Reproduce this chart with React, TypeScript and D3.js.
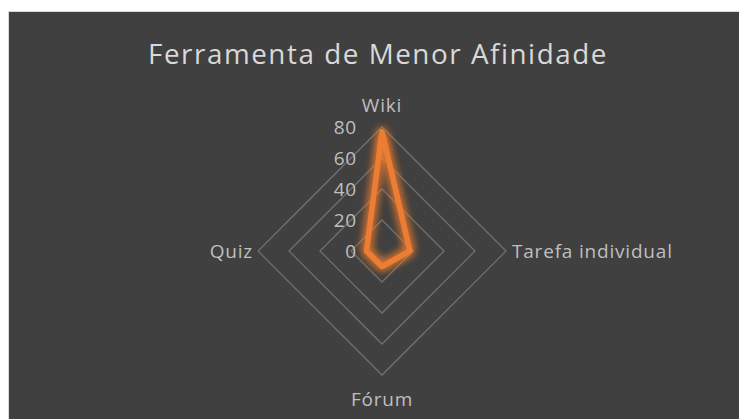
import React from 'react'
import { useRef, useEffect } from 'react'
import * as d3 from 'd3'

// chart data
const categories = ['Wiki', 'Tarefa individual', 'Fórum', 'Quiz']
const values = [77, 18, 10, 10]
const ticks = [0, 20, 40, 60, 80]

export default function App() {
  const svgRef = useRef<SVGSVGElement | null>(null)

  useEffect(() => {
    const w = 739
    const h = 419
    const cx = 382
    const cy = 251

    const svg = d3.select(svgRef.current)
    svg.selectAll('*').remove()
    svg.attr('width', w).attr('height', h)

    // glow filter for the series line
    const defs = svg.append('defs')
    const filter = defs.append('filter').attr('id', 'glow')
      .attr('x', '-50%').attr('y', '-50%').attr('width', '200%').attr('height', '200%')
    filter.append('feGaussianBlur').attr('in', 'SourceGraphic').attr('stdDeviation', 5).attr('result', 'blur')
    const merge = filter.append('feMerge')
    merge.append('feMergeNode').attr('in', 'blur')
    merge.append('feMergeNode').attr('in', 'blur')
    merge.append('feMergeNode').attr('in', 'SourceGraphic')

    // background + border
    svg.append('rect')
      .attr('x', 8.5).attr('y', 11.5)
      .attr('width', w).attr('height', h)
      .attr('fill', '#404040')
      .attr('stroke', '#d9d9d9')
      .attr('stroke-width', 1)

    // title
    svg.append('text')
      .attr('x', 378).attr('y', 64)
      .attr('text-anchor', 'middle')
      .style('font-family', '"Open Sans", sans-serif')
      .style('font-size', '27.8px')
      .style('letter-spacing', '1.55px')
      .style('fill', '#d9d9d9')
      .text('Ferramenta de Menor Afinidade')

    // scales
    const r = d3.scaleLinear().domain([0, 80]).range([0, 124])
    const angle = d3.scalePoint<string>().domain(categories.concat(['__end'])).range([0, 2 * Math.PI])
    const pt = (cat: string, v: number): [number, number] => {
      const a = angle(cat) as number
      return [cx + r(v) * Math.sin(a), cy - r(v) * Math.cos(a)]
    }

    const g = svg.append('g')
    const font = (sel: any) => sel
      .style('font-family', '"Open Sans", sans-serif')
      .style('font-size', '19px')
      .style('letter-spacing', '0.8px')
      .style('fill', '#bfbfbf')

    // grid rings
    const line = d3.line().curve(d3.curveLinearClosed)
    ticks.filter(t => t > 0).forEach(t => {
      g.append('path')
        .attr('d', line(categories.map(c => pt(c, t))))
        .attr('fill', 'none')
        .attr('stroke', '#707070')
        .attr('stroke-width', 1.3)
    })

    // tick labels
    g.selectAll('.tick')
      .data(ticks)
      .enter()
      .append('text')
      .attr('x', cx - 25)
      .attr('y', d => cy - r(d))
      .attr('dy', '0.35em')
      .attr('text-anchor', 'end')
      .call(font)
      .text(d => d)

    // category labels
    const labelPos = [
      { dx: 0, dy: -22, anchor: 'middle' },
      { dx: 6, dy: 0, anchor: 'start' },
      { dx: 0, dy: 24, anchor: 'middle' },
      { dx: -5, dy: 0, anchor: 'end' }
    ]
    categories.forEach((c, i) => {
      const [x, y] = pt(c, 80)
      g.append('text')
        .attr('x', x + labelPos[i].dx)
        .attr('y', y + labelPos[i].dy)
        .attr('dy', '0.35em')
        .attr('text-anchor', labelPos[i].anchor)
        .call(font)
        .text(c)
    })

    // series
    g.append('path')
      .attr('d', line(categories.map((c, i) => pt(c, values[i]))))
      .attr('fill', 'none')
      .attr('stroke', '#ed7d31')
      .attr('stroke-width', 5.5)
      .attr('stroke-linejoin', 'round')
      .attr('filter', 'url(#glow)')
  }, [])

  return (
    <div>
      <svg ref={svgRef} style={{ position: 'absolute', left: 0, top: 0 }}></svg>
    </div>
  )
}
